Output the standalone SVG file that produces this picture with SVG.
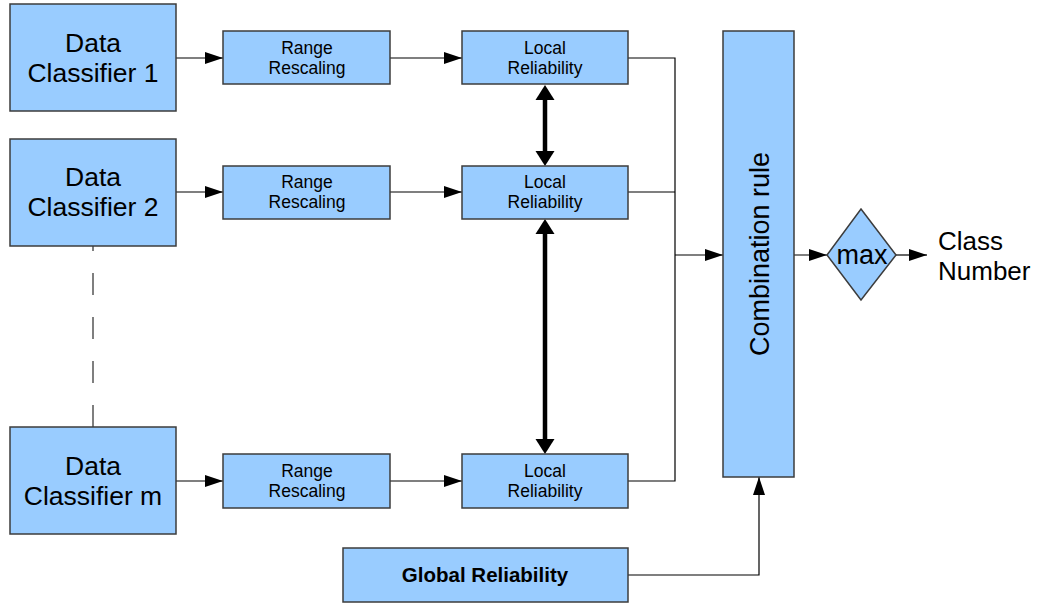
<svg xmlns="http://www.w3.org/2000/svg" width="1040" height="605" viewBox="0 0 1040 605">
<defs>
<marker id="ah" markerWidth="18" markerHeight="12" refX="18" refY="6" orient="auto" markerUnits="userSpaceOnUse">
<path d="M0,0 L18,6 L0,12 Z" fill="#000"/>
</marker>
</defs>
<style>
.box{fill:#99ccff;stroke:#3c3c3c;stroke-width:1.5}
.t{font-family:"Liberation Sans",Arial,sans-serif;fill:#000;text-anchor:middle}
.big{font-size:26.5px}
.sm{font-size:17.5px}
.ln{fill:none;stroke:#000;stroke-width:1.2}
.thick{fill:none;stroke:#000;stroke-width:4.5}
</style>
<rect width="1040" height="605" fill="#fff"/>
<g id="connectors">
<path class="ln" d="M176,58 H223" marker-end="url(#ah)"/>
<path class="ln" d="M176,192 H223" marker-end="url(#ah)"/>
<path class="ln" d="M176,481 H223" marker-end="url(#ah)"/>
<path class="ln" d="M390,58 H462" marker-end="url(#ah)"/>
<path class="ln" d="M390,192 H462" marker-end="url(#ah)"/>
<path class="ln" d="M390,481 H462" marker-end="url(#ah)"/>
<path class="ln" d="M628,58 H675 V481 H628"/>
<path class="ln" d="M628,192 H675"/>
<path class="ln" d="M675,255 H723" marker-end="url(#ah)"/>
<path class="ln" d="M794,255 H827" marker-end="url(#ah)"/>
<path class="ln" d="M896,255 H927" marker-end="url(#ah)"/>
<path class="ln" d="M628,575 H759 V477" marker-end="url(#ah)"/>
<g id="thick1">
<path class="thick" d="M545,99 V152"/>
<polygon points="545,85 535.5,100 554.5,100"/>
<polygon points="545,166 535.5,151 554.5,151"/>
</g>
<g id="thick2">
<path class="thick" d="M545,233 V440"/>
<polygon points="545,219 535.5,234 554.5,234"/>
<polygon points="545,454 535.5,439 554.5,439"/>
</g>
<path d="M93,427 V246" fill="none" stroke="#555" stroke-width="1.5" stroke-dasharray="22 22"/>
</g>
<g id="dc1"><rect class="box" x="10" y="4" width="166" height="107"/><text class="t big" x="93" y="52">Data</text><text class="t big" x="93" y="82">Classifier 1</text></g>
<g id="dc2"><rect class="box" x="10" y="139" width="166" height="107"/><text class="t big" x="93" y="186">Data</text><text class="t big" x="93" y="216">Classifier 2</text></g>
<g id="dcm"><rect class="box" x="10" y="427" width="166" height="107"/><text class="t big" x="93" y="475">Data</text><text class="t big" x="93" y="505">Classifier m</text></g>
<g id="rr1"><rect class="box" x="223" y="31" width="167" height="53"/><text class="t sm" x="307" y="54">Range</text><text class="t sm" x="307" y="74">Rescaling</text></g>
<g id="rr2"><rect class="box" x="223" y="166" width="167" height="53"/><text class="t sm" x="307" y="188">Range</text><text class="t sm" x="307" y="208">Rescaling</text></g>
<g id="rrm"><rect class="box" x="223" y="454" width="167" height="54"/><text class="t sm" x="307" y="477">Range</text><text class="t sm" x="307" y="497">Rescaling</text></g>
<g id="lr1"><rect class="box" x="462" y="31" width="166" height="53"/><text class="t sm" x="545" y="54">Local</text><text class="t sm" x="545" y="74">Reliability</text></g>
<g id="lr2"><rect class="box" x="462" y="166" width="166" height="53"/><text class="t sm" x="545" y="188">Local</text><text class="t sm" x="545" y="208">Reliability</text></g>
<g id="lrm"><rect class="box" x="462" y="454" width="166" height="54"/><text class="t sm" x="545" y="477">Local</text><text class="t sm" x="545" y="497">Reliability</text></g>
<g id="comb"><rect class="box" x="723" y="31" width="71" height="446"/><text class="t" font-size="27" transform="translate(769,254) rotate(-90)" x="0" y="0">Combination rule</text></g>
<g id="max"><polygon class="box" points="861,209 896,255 861,300 827,255"/><text class="t" font-size="27" x="862" y="264">max</text></g>
<g id="cls"><text class="t" font-size="26" style="text-anchor:start" x="938" y="250">Class</text><text class="t" font-size="26" style="text-anchor:start" x="938" y="280">Number</text></g>
<g id="gr"><rect class="box" x="343" y="548" width="285" height="54"/><text class="t" font-size="20.5" font-weight="bold" x="485" y="582">Global Reliability</text></g>
</svg>
